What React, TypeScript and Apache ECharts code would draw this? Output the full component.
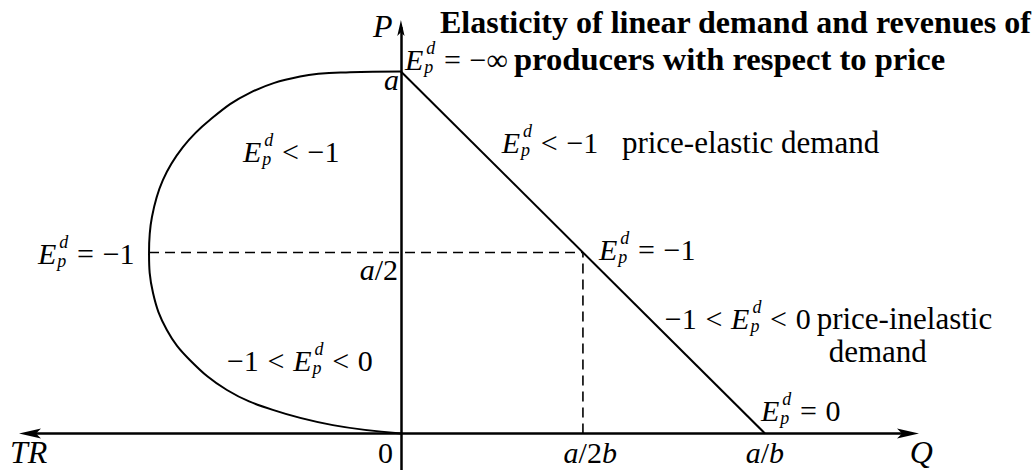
import React, { useEffect, useRef } from "react";
import * as echarts from "echarts";

// ---------- data (model units: a = 10, b = 1) ----------
const demandCurve: [number, number][] = [
  [0, 10],
  [10, 0],
];
const trCurve: [number, number][] = [
  [0, 10], [-1.4, 9.98], [-2.77, 9.86], [-4.15, 9.41], [-5.25, 8.66], [-5.99, 7.91],
  [-6.54, 7.0], [-6.84, 5.98], [-6.92, 5.0], [-6.81, 3.88], [-6.43, 2.86], [-5.8, 2.03],
  [-4.78, 1.2], [-3.52, 0.65], [-1.87, 0.23], [0, 0],
];
const unitElasticH: [number, number][] = [
  [-6.92, 5],
  [5, 5],
];
const unitElasticV: [number, number][] = [
  [5, 0],
  [5, 5],
];
const qRange = [-10.19, 13.93];
const pRange = [-1.01, 11.2];

const titleLine1 = "Elasticity of linear demand and revenues of";
const titleLine2 = "producers with respect to price";

// annotation texts (math: letters italic, _x^y = sub/superscript)
const annotationTexts = {
  infinite: "E_p^d = −∞",
  pLabel: "P",
  aLabel: "a",
  elasticLine: "E_p^d < −1",
  elasticWord: "price-elastic demand",
  elasticTR: "E_p^d < −1",
  unitLeft: "E_p^d = −1",
  halfA: "a/2",
  unitRight: "E_p^d = −1",
  inelasticTR: "−1 < E_p^d < 0",
  inelasticLine: "−1 < E_p^d < 0",
  inelasticWord1: "price-inelastic",
  inelasticWord2: "demand",
  zero: "E_p^d = 0",
  trLabel: "TR",
  origin: "0",
  halfQ: "a/2b",
  fullQ: "a/b",
  qLabel: "Q",
};

// ---------- styling / layout ----------
const SERIF = "'Liberation Serif', 'Times New Roman', serif";
const BASE = 30;
const SCRIPT = 18;
const MID = 0.34; // middle-of-text offset above baseline, in em
const MATH_SPACE = 0.29;

type Ann = { key: keyof typeof annotationTexts; at: [number, number]; math: boolean; align?: "left" | "right" | "center"; size?: number };
const placement: Ann[] = [
  { key: "infinite", at: [0.11, 10.04], math: true },
  { key: "pLabel", at: [-0.77, 10.95], math: true, size: 32 },
  { key: "aLabel", at: [-0.05, 9.49], math: true, align: "right" },
  { key: "elasticLine", at: [2.77, 7.75], math: true },
  { key: "elasticWord", at: [6.07, 7.75], math: false, size: 31 },
  { key: "elasticTR", at: [-4.34, 7.5], math: true },
  { key: "unitLeft", at: [-9.97, 4.68], math: true },
  { key: "halfA", at: [-0.08, 4.24], math: true, align: "right" },
  { key: "unitRight", at: [5.44, 4.79], math: true },
  { key: "inelasticTR", at: [-4.78, 1.73], math: true },
  { key: "inelasticLine", at: [7.25, 2.89], math: true },
  { key: "inelasticWord1", at: [11.42, 2.89], math: false, size: 31 },
  { key: "inelasticWord2", at: [11.75, 1.98], math: false, size: 31 },
  { key: "zero", at: [9.89, 0.35], math: true },
  { key: "trLabel", at: [-10.74, -0.81], math: true, size: 32 },
  { key: "origin", at: [-0.22, -0.81], math: true, align: "right" },
  { key: "halfQ", at: [5.2, -0.81], math: true, align: "center" },
  { key: "fullQ", at: [10, -0.81], math: true, align: "center" },
  { key: "qLabel", at: [13.98, -0.81], math: true, size: 32 },
];

const ARROW = "path://M5,0 L10,22 L5,17 L0,22 Z";

let ctx: CanvasRenderingContext2D | null = null;
function fontOf(size: number, italic: boolean, bold: boolean) {
  return `${italic ? "italic " : ""}${bold ? "bold " : ""}${size}px ${SERIF}`;
}
function measure(t: string, size: number, italic: boolean, bold = false) {
  if (!ctx) ctx = document.createElement("canvas").getContext("2d");
  if (!ctx) return t.length * size * 0.5;
  ctx.font = fontOf(size, italic, bold);
  return ctx.measureText(t).width;
}

type Piece = { text: string; italic: boolean; bold: boolean; size: number; dx: number; dy: number };

function layout(src: string, math: boolean, size: number, bold = false) {
  const pieces: Piece[] = [];
  if (!math) {
    pieces.push({ text: src, italic: false, bold, size, dx: 0, dy: 0 });
    return { pieces, width: measure(src, size, false, bold) };
  }
  let x = 0;
  let i = 0;
  const isLetter = (c: string) => /[A-Za-z]/.test(c);
  while (i < src.length) {
    const c = src[i];
    if (c === " ") {
      x += size * MATH_SPACE;
      i++;
      continue;
    }
    if (c === "_") {
      const sub = src[i + 1];
      let sup = "";
      let j = i + 2;
      if (src[j] === "^") {
        sup = src[j + 1];
        j += 2;
      }
      const ws = measure(sup, SCRIPT, true);
      const wb = measure(sub, SCRIPT, true);
      pieces.push({ text: sup, italic: true, bold: false, size: SCRIPT, dx: x + 3, dy: -size * 0.53 });
      pieces.push({ text: sub, italic: true, bold: false, size: SCRIPT, dx: x + 1, dy: size * 0.1 });
      x += Math.max(ws + 3, wb + 1);
      i = j;
      continue;
    }
    const it = isLetter(c);
    let j = i + 1;
    while (j < src.length && src[j] !== " " && src[j] !== "_" && isLetter(src[j]) === it) j++;
    const t = src.slice(i, j);
    pieces.push({ text: t, italic: it, bold: false, size, dx: x, dy: 0 });
    x += measure(t, size, it);
    i = j;
  }
  return { pieces, width: x };
}

function textGroup(px: number, py: number, src: string, math: boolean, size: number, align: string, bold = false) {
  const { pieces, width } = layout(src, math, size, bold);
  const shift = align === "right" ? -width : align === "center" ? -width / 2 : 0;
  return {
    type: "group",
    x: px + shift,
    y: py,
    silent: true,
    children: pieces.map((p) => ({
      type: "text",
      x: p.dx,
      y: p.dy - p.size * MID,
      style: {
        text: p.text,
        fill: "#000",
        font: fontOf(p.size, p.italic, p.bold),
        textAlign: "left",
        align: "left",
        textVerticalAlign: "middle",
        verticalAlign: "middle",
      },
    })),
  };
}

export default function App() {
  const ref = useRef<HTMLDivElement>(null);
  useEffect(() => {
    if (!ref.current) return;
    const chart = echarts.init(ref.current, null, { renderer: "svg" });
    const axisCommon = {
      type: "value" as const,
      axisTick: { show: false },
      axisLabel: { show: false },
      splitLine: { show: false },
    };
    chart.setOption({
      animation: false,
      backgroundColor: "#fff",
      textStyle: { fontFamily: SERIF },
      grid: { left: 30, right: 128, top: 28, bottom: 0, containLabel: false },
      xAxis: {
        ...axisCommon,
        min: qRange[0],
        max: qRange[1],
        axisLine: {
          show: true,
          onZero: true,
          symbol: [ARROW, ARROW],
          symbolSize: [10, 24],
          lineStyle: { color: "#000", width: 2.5 },
        },
      },
      yAxis: {
        ...axisCommon,
        min: pRange[0],
        max: pRange[1],
        axisLine: {
          show: true,
          onZero: true,
          symbol: ["none", ARROW],
          symbolSize: [9, 16],
          lineStyle: { color: "#000", width: 2.5 },
        },
      },
      series: [
        {
          type: "line",
          name: "demand",
          data: demandCurve,
          symbol: "none",
          lineStyle: { color: "#000", width: 2 },
          z: 3,
        },
        {
          type: "line",
          name: "TR",
          data: trCurve,
          symbol: "none",
          smooth: 0.4,
          lineStyle: { color: "#000", width: 2 },
          z: 3,
        },
        {
          type: "line",
          name: "unitH",
          data: unitElasticH,
          symbol: "none",
          lineStyle: { color: "#000", width: 1.6, type: [10, 6] },
          z: 2,
        },
        {
          type: "line",
          name: "unitV",
          data: unitElasticV,
          symbol: "none",
          lineStyle: { color: "#000", width: 1.6, type: [10, 6] },
          z: 2,
        },
      ],
    });

    const toPx = (p: [number, number]) => chart.convertToPixel({ gridIndex: 0 }, p) as number[];
    const graphics: any[] = [];
    graphics.push(textGroup(440, 33, titleLine1, false, 32, "left", true));
    graphics.push(textGroup(514, 70, titleLine2, false, 32.6, "left", true));
    placement.forEach((a) => {
      const [px, py] = toPx(a.at);
      graphics.push(textGroup(px, py, annotationTexts[a.key], a.math, a.size ?? BASE, a.align ?? "left"));
    });
    chart.setOption({ graphic: { elements: graphics } });

    return () => chart.dispose();
  }, []);
  return (
    <div
      ref={ref}
      style={{ position: "fixed", left: 0, top: 0, width: 1036, height: 470, background: "#fff" }}
    />
  );
}
